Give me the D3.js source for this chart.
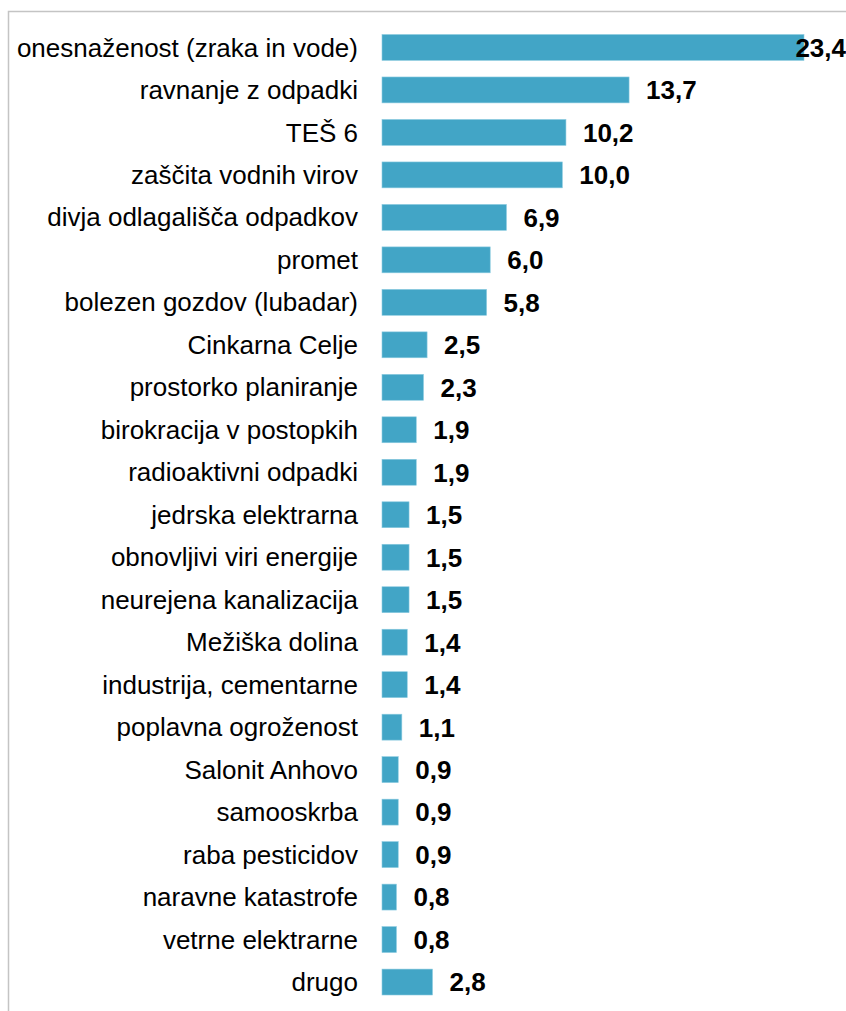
<!DOCTYPE html>
<html>
<head>
<meta charset="utf-8">
<script src="https://cdn.jsdelivr.net/npm/d3@7"></script>
<style>
  body { margin: 0; background: #fff; }
  svg { display: block; font-family: "Liberation Sans", Arial, sans-serif; }
</style>
</head>
<body>
<div id="chart"></div>
<script>
const categories = [
  "onesnaženost (zraka in vode)", "ravnanje z odpadki", "TEŠ 6", "zaščita vodnih virov",
  "divja odlagališča odpadkov", "promet", "bolezen gozdov (lubadar)", "Cinkarna Celje",
  "prostorko planiranje", "birokracija v postopkih", "radioaktivni odpadki",
  "jedrska elektrarna", "obnovljivi viri energije", "neurejena kanalizacija",
  "Mežiška dolina", "industrija, cementarne", "poplavna ogroženost", "Salonit Anhovo",
  "samooskrba", "raba pesticidov", "naravne katastrofe", "vetrne elektrarne", "drugo"
];
const values = [23.4, 13.7, 10.2, 10.0, 6.9, 6.0, 5.8, 2.5, 2.3, 1.9, 1.9, 1.5, 1.5, 1.5,
  1.4, 1.4, 1.1, 0.9, 0.9, 0.9, 0.8, 0.8, 2.8];

const width = 846, height = 1011;
const data = categories.map((c, i) => ({ name: c, value: values[i] }));

const svg = d3.select("#chart").append("svg")
  .attr("width", width)
  .attr("height", height);

// plot frame (runs off the right and bottom edges)
svg.append("rect")
  .attr("x", 8.5).attr("y", 11.5)
  .attr("width", width + 20).attr("height", height + 20)
  .attr("fill", "none")
  .attr("stroke", "#c4c4c4")
  .attr("stroke-width", 1.5);

const x = d3.scaleLinear().domain([0, 23.4]).range([382, 804]);
const y = d3.scaleBand()
  .domain(categories)
  .range([26, 26 + 42.5 * categories.length])
  .paddingInner(0.39)
  .paddingOuter(0.2);

const fmt = v => d3.format(".1f")(v).replace(".", ",");

const rows = svg.append("g").selectAll("g")
  .data(data)
  .join("g");

rows.append("rect")
  .attr("x", x(0))
  .attr("y", d => y(d.name))
  .attr("width", d => x(d.value) - x(0))
  .attr("height", y.bandwidth())
  .attr("fill", "#42a5c6")
  .attr("stroke", "#8ccbe0")
  .attr("stroke-width", 0.6);

rows.append("text")
  .attr("x", 358)
  .attr("y", d => y(d.name) + y.bandwidth() / 2)
  .attr("dy", "0.35em")
  .attr("text-anchor", "end")
  .attr("font-size", 26)
  .attr("fill", "#000")
  .text(d => d.name);

rows.append("text")
  .attr("y", d => y(d.name) + y.bandwidth() / 2)
  .attr("dy", "0.36em")
  .attr("font-size", 26)
  .attr("font-weight", "bold")
  .attr("fill", "#000")
  .text(d => fmt(d.value))
  .attr("x", function(d) {
    const w = this.getComputedTextLength();
    return Math.min(x(d.value) + 17, width - w);
  });
</script>
</body>
</html>
